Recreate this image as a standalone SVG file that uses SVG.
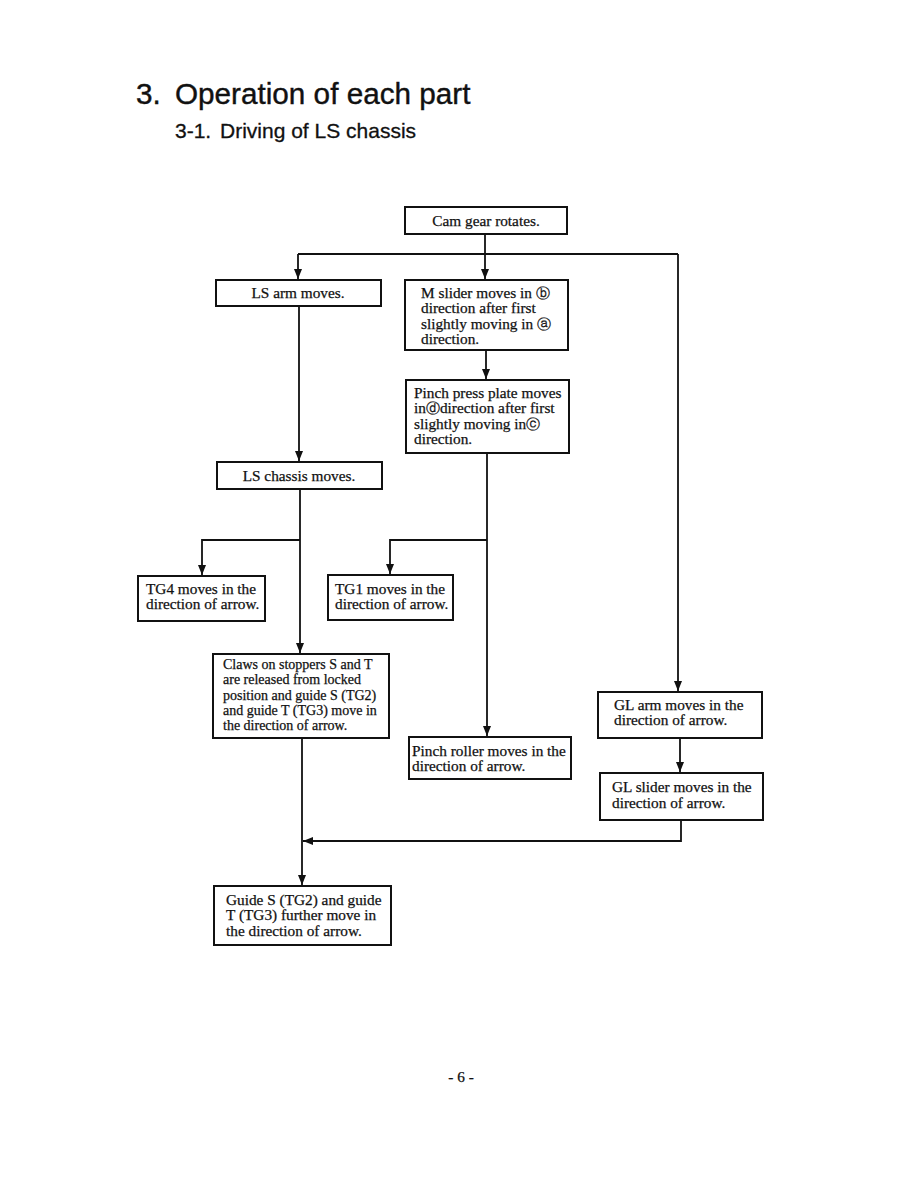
<svg xmlns="http://www.w3.org/2000/svg" width="918" height="1188" viewBox="0 0 918 1188">
<defs>
<marker id="ah" viewBox="0 0 10 10" refX="10" refY="5" markerWidth="10" markerHeight="8" markerUnits="userSpaceOnUse" orient="auto" preserveAspectRatio="none">
<path d="M0,0 L10,5 L0,10 Z" fill="#111"/>
</marker>
<style>
.box{fill:#fff;stroke:#111;stroke-width:2}
.t{font-family:"Liberation Serif","Times New Roman",serif;font-size:15.3px;fill:#111;stroke:#111;stroke-width:0.25}
.s{font-size:14px}
.c{text-anchor:middle}
.ln{fill:none;stroke:#111;stroke-width:1.8}
.h1{font-family:"Liberation Sans",Arial,sans-serif;font-size:29.7px;fill:#111;stroke:#111;stroke-width:0.4}
.h2{font-family:"Liberation Sans",Arial,sans-serif;font-size:21px;fill:#111;stroke:#111;stroke-width:0.3}
</style>
</defs>
<rect width="918" height="1188" fill="#fff"/>
<text class="h1" x="136" y="104">3.</text>
<text class="h1" x="175" y="104">Operation of each part</text>
<text class="h2" x="175" y="138">3-1.</text>
<text class="h2" x="220" y="138">Driving of LS chassis</text>

<g id="connectors">
<path class="ln" d="M485,234 V279" marker-end="url(#ah)"/>
<path class="ln" d="M298,254 H678"/>
<path class="ln" d="M298,254 V279" marker-end="url(#ah)"/>
<path class="ln" d="M678,254 V691" marker-end="url(#ah)"/>
<path class="ln" d="M486,350 V379" marker-end="url(#ah)"/>
<path class="ln" d="M299,306 V461" marker-end="url(#ah)"/>
<path class="ln" d="M300,489 V653" marker-end="url(#ah)"/>
<path class="ln" d="M300,540 H202 V575" marker-end="url(#ah)"/>
<path class="ln" d="M487,453 V736" marker-end="url(#ah)"/>
<path class="ln" d="M487,540 H390 V574" marker-end="url(#ah)"/>
<path class="ln" d="M680,738 V772" marker-end="url(#ah)"/>
<path class="ln" d="M681,820 V841 H303" marker-end="url(#ah)"/>
<path class="ln" d="M302,738 V885" marker-end="url(#ah)"/>
</g>

<g id="cam">
<rect class="box" x="405" y="207" width="162" height="27"/>
<text class="t c" x="486" y="226">Cam gear rotates.</text>
</g>
<g id="lsarm">
<rect class="box" x="216" y="280" width="165" height="26"/>
<text class="t c" x="298" y="298">LS arm moves.</text>
</g>
<g id="mslider">
<rect class="box" x="405" y="280" width="163" height="70"/>
<text class="t" x="421" y="298">M slider moves in <tspan font-family="DejaVu Sans" font-size="14">ⓑ</tspan></text>
<text class="t" x="421" y="313">direction after first</text>
<text class="t" x="421" y="329">slightly moving in <tspan font-family="DejaVu Sans" font-size="14">ⓐ</tspan></text>
<text class="t" x="421" y="344">direction.</text>
</g>
<g id="pinchplate">
<rect class="box" x="406" y="380" width="163" height="73"/>
<text class="t" x="414" y="398">Pinch press plate moves</text>
<text class="t" x="414" y="413">in<tspan font-family="DejaVu Sans" font-size="14">ⓓ</tspan>direction after first</text>
<text class="t" x="414" y="429">slightly moving in<tspan font-family="DejaVu Sans" font-size="14">ⓒ</tspan></text>
<text class="t" x="414" y="444">direction.</text>
</g>
<g id="lschassis">
<rect class="box" x="217" y="462" width="165" height="27"/>
<text class="t c" x="299" y="481">LS chassis moves.</text>
</g>
<g id="tg4">
<rect class="box" x="138" y="576" width="127" height="45"/>
<text class="t" x="146" y="594">TG4 moves in the</text>
<text class="t" x="146" y="609">direction of arrow.</text>
</g>
<g id="tg1">
<rect class="box" x="328" y="575" width="125" height="45"/>
<text class="t" x="335" y="594">TG1 moves in the</text>
<text class="t" x="335" y="609">direction of arrow.</text>
</g>
<g id="claws">
<rect class="box" x="213" y="654" width="176" height="84"/>
<text class="t s" x="223" y="669">Claws on stoppers S and T</text>
<text class="t s" x="223" y="684">are released from locked</text>
<text class="t s" x="223" y="700">position and guide S (TG2)</text>
<text class="t s" x="223" y="715">and guide T (TG3) move in</text>
<text class="t s" x="223" y="730">the direction of arrow.</text>
</g>
<g id="pinchroller">
<rect class="box" x="409" y="737" width="162" height="42"/>
<text class="t" x="412" y="756">Pinch roller moves in the</text>
<text class="t" x="412" y="771">direction of arrow.</text>
</g>
<g id="glarm">
<rect class="box" x="598" y="692" width="164" height="46"/>
<text class="t" x="614" y="710">GL arm moves in the</text>
<text class="t" x="614" y="725">direction of arrow.</text>
</g>
<g id="glslider">
<rect class="box" x="600" y="773" width="163" height="47"/>
<text class="t" x="612" y="792">GL slider moves in the</text>
<text class="t" x="612" y="808">direction of arrow.</text>
</g>
<g id="guides">
<rect class="box" x="214" y="886" width="177" height="59"/>
<text class="t" x="226" y="905">Guide S (TG2) and guide</text>
<text class="t" x="226" y="920">T (TG3) further move in</text>
<text class="t" x="226" y="936">the direction of arrow.</text>
</g>
<text class="t c" x="461" y="1082" font-size="17">- 6 -</text>
</svg>
